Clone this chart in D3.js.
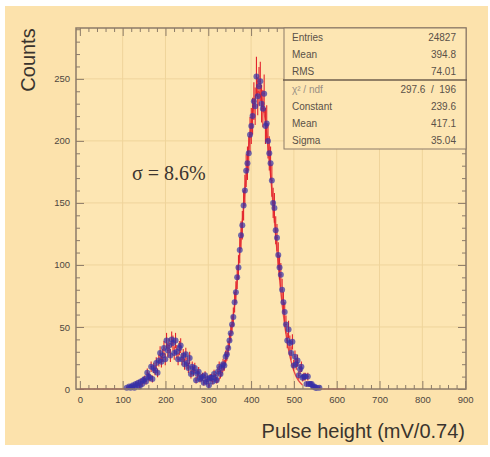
<!DOCTYPE html>
<html><head><meta charset="utf-8">
<script src="https://cdn.jsdelivr.net/npm/d3@7"></script>
<style>body{margin:0;background:#fff}svg{display:block}</style>
</head><body><svg id="c" width="490" height="457"></svg>
<script>
// ---- data ----
const binStart = 0;
const binWidth = 3;
const counts = [
  0,0,0,0,0,0,0,0,0,0,
  0,0,0,0,0,0,0,0,0,0,
  0,0,0,0,0,0,0,0,0,0,
  0,0,0,0,0,0,1,0,2,1,
  2,3,1,4,3,5,2,6,4,7,
  8,6,13,10,9,18,8,17,15,21,
  13,23,29,22,27,33,24,39,31,35,
  27,40,37,29,39,30,24,33,35,24,
  27,20,28,21,17,25,12,18,14,17,
  7,12,14,8,9,10,5,11,6,8,
  3,9,9,6,12,9,7,14,18,12,
  17,20,19,26,28,33,39,45,52,58,
  70,78,90,98,112,124,132,148,160,176,
  182,190,205,212,220,232,228,252,236,244,
  248,230,226,238,212,214,200,190,182,168,
  150,146,128,122,108,98,92,80,70,62,
  52,39,48,37,29,38,19,26,20,23,
  11,16,18,9,10,10,4,10,4,4,
  4,2,2,1,1,0,1,0,0,0,
  0,0,0,0,0,0,0,0,0,0,
  0,0,0,0,0,0,0
];
const fitX = [320,330,340,350,360,370,380,390,400,410,417,420,430,440,450,460,470,480,490,500,510,520];
const fitY = [5.2,10.9,21.3,38.3,63.5,97.1,136.8,177.7,212.7,234.7,239.6,238.8,223.9,193.5,154.2,113.2,76.6,47.8,27.5,14.6,7.1,3.2];
const xTicks = [0,100,200,300,400,500,600,700,800,900];
const yTicks = [0,50,100,150,200,250];
const statLabels = ["Entries","Mean","RMS","χ² / ndf","Constant","Mean","Sigma"];
const statValues = ["24827","394.8","74.01","297.6  /  196","239.6","417.1","35.04"];
const annotation = "σ = 8.6%";
const xTitle = "Pulse height (mV/0.74)";
const yTitle = "Counts";

// ---- drawing ----
const svg = d3.select("#c");
const L = 76, R = 466, T = 28, B = 389;
const x = d3.scaleLinear().domain([-9, 902]).range([L, R]);
const y = d3.scaleLinear().domain([0, 291]).range([B, T]);
const frameCol = "#8c7b68";

svg.append("rect").attr("x",5).attr("y",6).attr("width",483).attr("height",439).attr("fill","#fce2ac");
svg.append("rect").attr("x",L).attr("y",T).attr("width",R-L).attr("height",B-T).attr("fill","#fde6b3");

// grid
const grid = svg.append("g").attr("stroke","#efd49b").attr("stroke-width",1);
xTicks.filter(v=>v>0&&v<900).forEach(v=>grid.append("line").attr("x1",x(v)).attr("x2",x(v)).attr("y1",T).attr("y2",B));
yTicks.filter(v=>v>0).forEach(v=>grid.append("line").attr("x1",L).attr("x2",R).attr("y1",y(v)).attr("y2",y(v)));

// axes
const minorX = d3.range(0, 901, 20).filter(v=>v%100);
const minorY = d3.range(0, 291, 10).filter(v=>v%50);
function styleAxis(g){ g.select(".domain").remove(); g.selectAll("line").attr("stroke",frameCol); g.selectAll("text").attr("fill","#4f473f").attr("font-family","Liberation Sans, Arial, sans-serif").attr("font-size",9.5); }
svg.append("g").attr("transform",`translate(0,${B})`).call(d3.axisBottom(x).tickValues(xTicks).tickSize(-8).tickPadding(7)).call(styleAxis);
svg.append("g").attr("transform",`translate(0,${B})`).call(d3.axisBottom(x).tickValues(minorX).tickSize(-4).tickFormat("")).call(styleAxis);
svg.append("g").attr("transform",`translate(0,${T})`).call(d3.axisTop(x).tickValues(xTicks).tickSize(-8).tickFormat("")).call(styleAxis);
svg.append("g").attr("transform",`translate(0,${T})`).call(d3.axisTop(x).tickValues(minorX).tickSize(-4).tickFormat("")).call(styleAxis);
svg.append("g").attr("transform",`translate(${L},0)`).call(d3.axisLeft(y).tickValues(yTicks).tickSize(-8).tickPadding(6)).call(styleAxis);
svg.append("g").attr("transform",`translate(${L},0)`).call(d3.axisLeft(y).tickValues(minorY).tickSize(-4).tickFormat("")).call(styleAxis);
svg.append("g").attr("transform",`translate(${R},0)`).call(d3.axisRight(y).tickValues(yTicks).tickSize(-8).tickFormat("")).call(styleAxis);
svg.append("g").attr("transform",`translate(${R},0)`).call(d3.axisRight(y).tickValues(minorY).tickSize(-4).tickFormat("")).call(styleAxis);

// histogram: red error bars, fit, blue markers
const bins = counts.map((c,i)=>({x0: binStart + i*binWidth, x1: binStart + (i+1)*binWidth, c}));
const red = "#e3232c", blue = "#3530a8";
const eb = svg.append("g").attr("stroke",red).attr("stroke-width",1.1);
bins.forEach(b=>{
  const e = Math.sqrt(b.c);
  eb.append("line").attr("x1",x(b.x0)).attr("x2",x(b.x1)).attr("y1",y(b.c)).attr("y2",y(b.c));
  if (b.c>0) eb.append("line").attr("x1",x((b.x0+b.x1)/2)).attr("x2",x((b.x0+b.x1)/2)).attr("y1",y(b.c-e)).attr("y2",y(b.c+e));
});
const fit = fitX.map((v,i)=>[v,fitY[i]]);
svg.append("path").attr("d", d3.line().x(d=>x(d[0])).y(d=>y(d[1])).curve(d3.curveCatmullRom)(fit))
  .attr("fill","none").attr("stroke",red).attr("stroke-width",1.4).attr("stroke-opacity",0.8);
const mk = svg.append("g");
bins.filter(b=>b.c>0).forEach(b=>{
  mk.append("circle").attr("cx",x((b.x0+b.x1)/2)).attr("cy",y(b.c)).attr("r",3).attr("fill",blue).attr("fill-opacity",0.7);
});

// frame
svg.append("rect").attr("x",L).attr("y",T).attr("width",R-L).attr("height",B-T).attr("fill","none").attr("stroke",frameCol).attr("stroke-width",1.5);

// stats box
const sb = svg.append("g");
sb.append("rect").attr("x",284).attr("y",T).attr("width",R-284).attr("height",121).attr("fill","#fde6b3").attr("stroke",frameCol).attr("stroke-width",1);
sb.append("line").attr("x1",283).attr("x2",R+1).attr("y1",80).attr("y2",80).attr("stroke","#6e5e4c").attr("stroke-width",1.6);
const rowY = [37,54,71,89,106,123,140];
statLabels.forEach((s,i)=>{
  sb.append("text").attr("x",292).attr("y",rowY[i]).attr("dy","0.35em").attr("font-family","Liberation Sans, Arial, sans-serif").attr("font-size",10).attr("fill", i===3?"#9a8f84":"#5a5148").text(s);
  sb.append("text").attr("x",456).attr("y",rowY[i]).attr("dy","0.35em").attr("text-anchor","end").attr("font-family","Liberation Sans, Arial, sans-serif").attr("font-size",10).attr("fill","#5a5148").style("white-space","pre").text(statValues[i]);
});

// annotation
svg.append("text").attr("x",132).attr("y",173).attr("dy","0.35em").attr("font-family","Liberation Serif, Times New Roman, serif").attr("font-size",20).attr("fill","#3c3530").text(annotation);

// titles
svg.append("text").attr("x",465).attr("y",438).attr("text-anchor","end").attr("font-family","Liberation Sans, Arial, sans-serif").attr("font-size",20).attr("fill","#3a342e").text(xTitle);
svg.append("text").attr("transform","translate(35,60) rotate(-90)").attr("text-anchor","middle").attr("font-family","Liberation Sans, Arial, sans-serif").attr("font-size",20).attr("fill","#3a342e").text(yTitle);
</script></body></html>
